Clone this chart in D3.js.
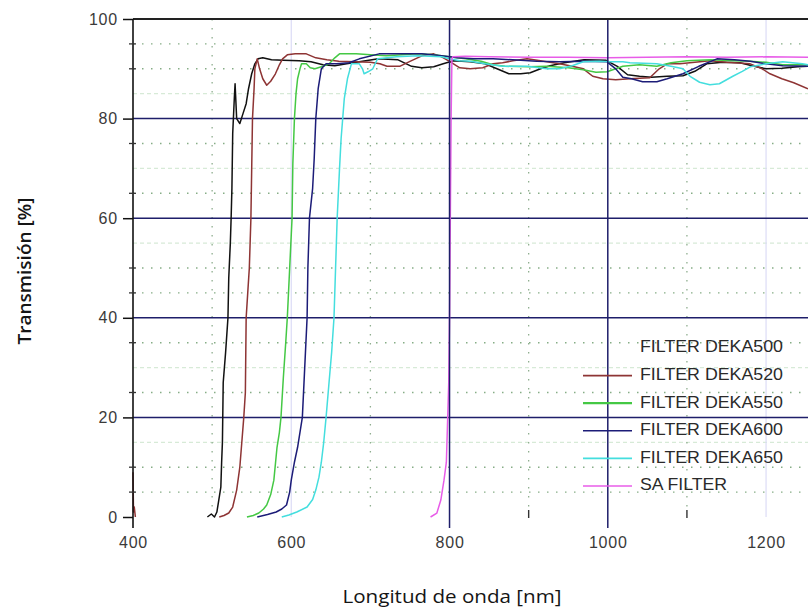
<!DOCTYPE html>
<html>
<head>
<meta charset="utf-8">
<script src="https://cdn.jsdelivr.net/npm/d3@7"></script>
<style>
  html, body { margin: 0; padding: 0; background: #fff; }
  svg { display: block; }
</style>
</head>
<body>
<svg id="chart" width="808" height="613"></svg>
<script>
// Transmission spectra of long-pass filters: [wavelength nm, transmission %]
const deka500 = [[494,0],[499,0.6],[503,0],[506,1],[508,3],[511,6],[512,11],[513,15],[514,27],[517,33],[520,40],[521,48],[523,55],[524,60],[525,66],[526,77],[528,84],[529,87],[531,80],[535,79],[539,81],[543,83],[546,86],[550,89],[554,91],[558,92],[564,92.2],[575,91.8],[590,91.7],[610,91.6],[625,91.4],[640,90.8],[655,90.6],[670,91],[690,91.5],[710,92],[735,91.8],[752,90.5],[765,90.2],[780,90.4],[792,91],[805,91.6],[826,91.4],[845,91],[860,90],[875,89],[890,89],[902,89.2],[915,90],[927,90.6],[945,91.2],[970,91.8],[998,91.7],[1012,90.5],[1025,88.8],[1040,88.5],[1055,88.3],[1075,88.5],[1095,88.6],[1110,89.5],[1125,91],[1145,91.3],[1167,91.2],[1185,90.5],[1200,90],[1220,90.1],[1240,90.4],[1253,90.5]];

const deka520 = [[400,9],[400.6,1],[401.6,2],[403,0],[404,null],[508,null],[509,0],[515,0.3],[521,0.8],[526,2],[531,5.4],[535,10],[537,14],[540,20],[542,25],[543,40],[545,45],[547,50],[549,60],[550,70],[551,80],[553,86],[554,90],[557,92],[560,90],[564,88],[569,86.7],[574,87.5],[580,89],[585,90.8],[589,92],[595,92.8],[605,93],[619,93],[631,92.2],[645,91.8],[660,91.5],[680,91.4],[700,91.3],[712,91],[721,90.5],[737,90.5],[750,91.5],[765,92.6],[780,93],[790,92.4],[800,91.5],[813,90.2],[826,90],[842,90.2],[855,91],[867,91.2],[880,91.6],[898,92],[915,91.6],[939,91],[955,90.5],[969,90],[981,88.5],[994,88],[1010,87.8],[1028,88],[1053,88.2],[1065,90],[1075,91],[1091,91],[1110,91.3],[1129,91.6],[1150,91.3],[1180,91],[1195,90],[1205,89],[1220,88],[1235,87.2],[1253,86]];

const deka550 = [[544,0],[552,0.3],[559,0.8],[565,1.6],[569,2.4],[574,4.5],[578,7.4],[582,14],[585,17],[587,20],[590,28],[593,35],[595,40],[598,50],[601,60],[602,71],[604,80],[606,85],[608,88],[611,90],[613,91],[619,91],[624,90.2],[630,90],[640,90.5],[648,91],[655,92.2],[661,93],[682,93],[700,92.8],[720,92.6],[740,92.8],[760,93],[780,92.8],[800,92.4],[820,92],[840,91.5],[855,90.8],[870,90.5],[900,90.4],[923,90.5],[950,90.2],[969,89.8],[985,89.3],[999,89.4],[1010,90],[1019,90.5],[1040,90.8],[1062,90.5],[1080,91.2],[1100,91.6],[1130,91.8],[1160,91.6],[1180,91.5],[1200,91.3],[1221,90.8],[1253,90.8]];

const deka600 = [[557,0],[570,0.5],[581,1],[588,1.6],[594,2.4],[598,5],[600,7.4],[604,11],[608,14],[611,17],[614,20],[617,30],[620,40],[621,50],[623,60],[627,66],[629,72],[631,80],[634,86],[638,90],[644,91],[657,91],[673,91.2],[686,92],[711,93],[740,93],[765,93],[790,92.6],[810,92.2],[830,92],[855,92],[880,91.8],[910,91.5],[939,91.4],[969,91.5],[999,91.4],[1010,90],[1019,88.3],[1030,88],[1044,87.4],[1062,87.4],[1075,88],[1095,89],[1115,90.5],[1138,92],[1160,91.8],[1180,91.5],[1200,91],[1221,90.6],[1253,90.5]];

const deka650 = [[588,0],[597,0.4],[607,1],[620,2],[627,3.5],[631,5.4],[635,8],[638,11],[641,15],[644,20],[648,27.5],[651,33],[654,40],[656,50],[658,60],[661,70],[663,76],[665,80],[667,84],[671,88],[676,91],[686,91],[690,90],[692,89],[697,89.4],[703,90],[709,92],[733,92.4],[760,92.6],[790,92.4],[800,92],[813,91.6],[826,91.5],[845,91],[867,90.5],[898,90.5],[923,90],[939,90],[955,90.6],[969,91.4],[990,91.5],[1003,91.4],[1019,91.4],[1028,91.2],[1062,91],[1080,90.5],[1095,90],[1104,88.5],[1116,87.3],[1129,86.8],[1141,87],[1158,88.5],[1170,89.5],[1180,90.4],[1200,91],[1221,91.4],[1246,91],[1253,90.8]];

const saFilter = [[776,0],[784,0.8],[789,3.4],[793,7.4],[796,11],[799,27],[800,40],[801,60],[802,80],[803,92],[804,92.4],[820,92.5],[850,92.4],[900,92.3],[950,92.3],[1000,92.2],[1050,92.3],[1100,92.4],[1150,92.3],[1200,92.4],[1253,92.3]];

const seriesNames = ["FILTER DEKA500", "FILTER DEKA520", "FILTER DEKA550", "FILTER DEKA600", "FILTER DEKA650", "SA FILTER"];
const seriesData = [deka500, deka520, deka550, deka600, deka650, saFilter];
const seriesColors = ["#111111", "#8e3434", "#44c844", "#1c1c78", "#44dede", "#e85ce8"];
const legendSwatch = [false, true, true, true, true, true];

const xTicks = [400, 600, 800, 1000, 1200];
const xMinorTicks = [900, 1100];
const xDarkGrid = [800, 1000];
const xFaintGrid = [600, 1200];
const xDotGrid = [500, 700, 900, 1100];
const yTicks = [0, 20, 40, 60, 80, 100];
const yDotGrid = [5, 10, 25, 35, 45, 50, 65, 75, 90, 95];
const yFaintGrid = [15, 30, 55, 70, 85];

const svg = d3.select("#chart");
const x = d3.scaleLinear().domain([400, 1253]).range([133, 808]);
const y = d3.scaleLinear().domain([0, 100]).range([517, 19]);
const x0 = x.range()[0], x1 = x.range()[1];
const yTop = y(100), yBase = 528;

// faint and dotted horizontal grid
svg.append("g").selectAll("line").data(yFaintGrid).join("line")
  .attr("x1", x0).attr("x2", x1).attr("y1", d => y(d)).attr("y2", d => y(d))
  .attr("stroke", "#d7ead7").attr("stroke-width", 1.2).attr("stroke-dasharray", "4,3");
svg.append("g").selectAll("line").data(yDotGrid).join("line")
  .attr("x1", x0).attr("x2", x1).attr("y1", d => y(d)).attr("y2", d => y(d))
  .attr("stroke", "#86ad86").attr("stroke-width", 1.4).attr("stroke-dasharray", "1.5,7.5");

// vertical grid
svg.append("g").selectAll("line").data(xDotGrid).join("line")
  .attr("x1", d => x(d)).attr("x2", d => x(d)).attr("y1", yTop).attr("y2", y(0) - 4)
  .attr("stroke", "#8fae8f").attr("stroke-width", 1.3).attr("stroke-dasharray", "1.5,7.5");
svg.append("g").selectAll("line").data(xFaintGrid).join("line")
  .attr("x1", d => x(d)).attr("x2", d => x(d)).attr("y1", yTop).attr("y2", y(0))
  .attr("stroke", "#dcdcf6").attr("stroke-width", 1.2);

// major horizontal grid
svg.append("g").selectAll("line").data(yTicks.filter(d => d > 0 && d < 100)).join("line")
  .attr("x1", x0).attr("x2", x1).attr("y1", d => y(d)).attr("y2", d => y(d))
  .attr("stroke", "#1e1e6a").attr("stroke-width", 1.5);

// spectra
const line = d3.line()
  .defined(d => d[1] !== null)
  .x(d => x(d[0])).y(d => y(d[1]));

svg.append("g").selectAll("path").data(seriesData).join("path")
  .attr("d", d => line(d))
  .attr("fill", "none")
  .attr("stroke", (d, i) => seriesColors[i])
  .attr("stroke-width", 1.5)
  .attr("stroke-linejoin", "round");

// major vertical grid drawn above the curves, extending down as ticks
svg.append("g").selectAll("line").data(xDarkGrid).join("line")
  .attr("x1", d => x(d)).attr("x2", d => x(d)).attr("y1", yTop).attr("y2", yBase)
  .attr("stroke", "#1e1e6a").attr("stroke-width", 1.5);

// frame: top border and left axis
svg.append("line").attr("x1", x0).attr("x2", x1).attr("y1", yTop).attr("y2", yTop)
  .attr("stroke", "#222").attr("stroke-width", 2);
svg.append("line").attr("x1", x0).attr("x2", x0).attr("y1", yTop).attr("y2", yBase)
  .attr("stroke", "#111").attr("stroke-width", 1.6);

// y axis
const yAxis = svg.append("g").attr("transform", `translate(${x0},0)`)
  .call(d3.axisLeft(y).tickValues(yTicks).tickSize(10).tickPadding(5).tickFormat(d3.format("d")));
yAxis.select(".domain").remove();
yAxis.selectAll(".tick line").attr("stroke", "#111").attr("stroke-width", 1.5);
yAxis.selectAll(".tick text")
  .attr("font-family", "Liberation Sans, Arial, sans-serif")
  .attr("font-size", 16).attr("letter-spacing", 0.8).attr("fill", "#3a3a3a");

// y minor ticks
svg.append("g").selectAll("line").data(yDotGrid).join("line")
  .attr("x1", x0 - 4).attr("x2", x0 + 3).attr("y1", d => y(d)).attr("y2", d => y(d))
  .attr("stroke", "#333").attr("stroke-width", 1.3);

// x axis labels
const xAxis = svg.append("g").attr("transform", `translate(0,${yBase})`)
  .call(d3.axisBottom(x).tickValues(xTicks).tickSize(0).tickPadding(9).tickFormat(d3.format("d")));
xAxis.select(".domain").remove();
xAxis.selectAll(".tick text")
  .attr("font-family", "Liberation Sans, Arial, sans-serif")
  .attr("font-size", 16).attr("letter-spacing", 0.8).attr("fill", "#3a3a3a");

// x minor ticks
svg.append("g").selectAll("line").data(xMinorTicks).join("line")
  .attr("x1", d => x(d)).attr("x2", d => x(d)).attr("y1", y(0) - 7).attr("y2", y(0) + 1)
  .attr("stroke", "#333").attr("stroke-width", 1.4);

// axis titles
svg.append("text")
  .attr("transform", "translate(26,271) rotate(-90)")
  .attr("text-anchor", "middle").attr("dominant-baseline", "middle")
  .attr("font-family", "Open Sans, sans-serif").attr("font-size", 18).attr("font-weight", 600)
  .attr("fill", "#151515")
  .attr("textLength", 147).attr("lengthAdjust", "spacingAndGlyphs")
  .text("Transmisión [%]");
svg.append("text")
  .attr("x", 452).attr("y", 603)
  .attr("text-anchor", "middle")
  .attr("font-family", "Open Sans, sans-serif").attr("font-size", 19).attr("font-weight", 500)
  .attr("fill", "#151515")
  .attr("textLength", 219).attr("lengthAdjust", "spacingAndGlyphs")
  .text("Longitud de onda [nm]");

// legend
const legendY = d3.scalePoint().domain(seriesNames).range([348, 486]);
const legend = svg.append("g");
legend.selectAll("line").data(seriesNames.filter((n, i) => legendSwatch[i])).join("line")
  .attr("x1", 583).attr("x2", 632)
  .attr("y1", d => legendY(d)).attr("y2", d => legendY(d))
  .attr("stroke", d => seriesColors[seriesNames.indexOf(d)])
  .attr("stroke-width", d => seriesNames.indexOf(d) === 2 ? 2.2 : 1.6);
legend.selectAll("text").data(seriesNames).join("text")
  .attr("x", 640).attr("y", d => legendY(d))
  .attr("dominant-baseline", "middle")
  .attr("font-family", "Liberation Sans Narrow, Arial Narrow, Liberation Sans, sans-serif")
  .attr("font-size", 17).attr("fill", "#2a2a2a")
  .attr("textLength", d => d === "SA FILTER" ? 87 : 143)
  .attr("lengthAdjust", "spacingAndGlyphs")
  .text(d => d);
</script>
</body>
</html>
